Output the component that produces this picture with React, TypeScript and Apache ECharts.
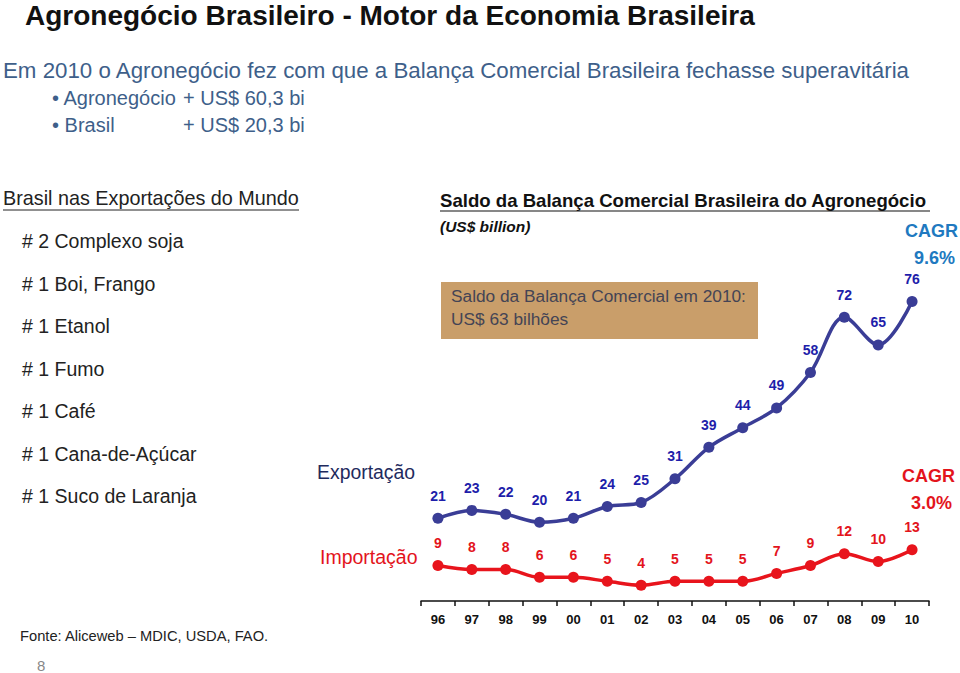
import React, { useEffect, useRef } from "react";
import * as echarts from "echarts";

const years = ["96", "97", "98", "99", "00", "01", "02", "03", "04", "05", "06", "07", "08", "09", "10"];
const exportacao = [21, 23, 22, 20, 21, 24, 25, 31, 39, 44, 49, 58, 72, 65, 76];
const importacao = [9, 8, 8, 6, 6, 5, 4, 5, 5, 5, 7, 9, 12, 10, 13];
const rankings = [
  "# 2 Complexo soja",
  "# 1 Boi, Frango",
  "# 1 Etanol",
  "# 1 Fumo",
  "# 1 Café",
  "# 1 Cana-de-Açúcar",
  "# 1 Suco de Laranja",
];

const FONT = "'Liberation Sans', Arial, sans-serif";

export default function App() {
  const ref = useRef<HTMLDivElement>(null);
  useEffect(() => {
    document.body.style.margin = "0";
    const chart = echarts.init(ref.current!, null, { renderer: "svg" });
    const txt = (text: string, x: number, y: number, style: any = {}) => ({
      type: "text",
      x,
      y,
      style: {
        text,
        fontFamily: FONT,
        fontSize: 18,
        fill: "#222",
        textVerticalAlign: "middle",
        ...style,
      },
    });
    const graphic: any[] = [
      txt("Agronegócio Brasileiro - Motor da Economia Brasileira", 25, 15, {
        fontSize: 28,
        fontWeight: "bold",
        fill: "#111",
      }),
      txt("Em 2010 o Agronegócio fez com que a Balança Comercial Brasileira fechasse superavitária", 3, 70, {
        fontSize: 22.3,
        fill: "#3E5F8A",
      }),
      txt("• Agronegócio", 52, 98, { fontSize: 20, fill: "#3E5F8A" }),
      txt("+ US$ 60,3 bi", 183, 98, { fontSize: 20, fill: "#3E5F8A" }),
      txt("• Brasil", 52, 125, { fontSize: 20, fill: "#3E5F8A" }),
      txt("+ US$ 20,3 bi", 183, 125, { fontSize: 20, fill: "#3E5F8A" }),
      txt("Brasil nas Exportações do Mundo", 3, 198, { fontSize: 19.8, fill: "#222" }),
      { type: "line", shape: { x1: 3, y1: 210, x2: 299, y2: 210 }, style: { stroke: "#222", lineWidth: 1 } },
      ...rankings.map((r, i) => txt(r, 22, 241 + i * 42.5, { fontSize: 19.5, fill: "#222" })),
      txt("Fonte: Aliceweb – MDIC, USDA, FAO.", 20, 636, { fontSize: 14.7, fill: "#222" }),
      txt("8", 37, 665, { fontSize: 15, fill: "#888" }),
      txt("Saldo da Balança Comercial Brasileira do Agronegócio", 440, 200, {
        fontSize: 18.6,
        fontWeight: "bold",
        fill: "#111",
      }),
      { type: "line", shape: { x1: 440, y1: 211, x2: 930, y2: 211 }, style: { stroke: "#111", lineWidth: 1.2 } },
      txt("(US$ billion)", 440, 226, { fontSize: 15.5, fontWeight: "bold", fontStyle: "italic", fill: "#111" }),
      {
        type: "rect",
        shape: { x: 441, y: 282, width: 317, height: 57 },
        style: { fill: "#C99E6A" },
      },
      txt("Saldo da Balança Comercial em 2010:", 451, 296, { fontSize: 17.3, fill: "#444455" }),
      txt("US$ 63 bilhões", 451, 319, { fontSize: 17.3, fill: "#444455" }),
      txt("CAGR", 958, 231, { fontSize: 18, fontWeight: "bold", fill: "#2079C0", align: "right" }),
      txt("9.6%", 955, 258, { fontSize: 18, fontWeight: "bold", fill: "#2079C0", align: "right" }),
      txt("CAGR", 955, 476, { fontSize: 18, fontWeight: "bold", fill: "#E3141C", align: "right" }),
      txt("3.0%", 952, 503, { fontSize: 18, fontWeight: "bold", fill: "#E3141C", align: "right" }),
      txt("Exportação", 317, 472, { fontSize: 19.4, fill: "#1F2B5E" }),
      txt("Importação", 320, 557, { fontSize: 19.5, fill: "#E3141C" }),
    ];
    const option: any = {
      animation: false,
      grid: { left: 421, right: 31, top: 207, bottom: 72 },
      xAxis: {
        type: "category",
        data: years,
        boundaryGap: true,
        axisLine: { show: true, lineStyle: { color: "#111", width: 1.5 } },
        axisTick: { show: true, length: 5, inside: false, lineStyle: { color: "#111", width: 1.5 } },
        axisLabel: {
          color: "#111",
          fontFamily: FONT,
          fontSize: 13,
          fontWeight: "bold",
          margin: 12,
        },
      },
      yAxis: {
        type: "value",
        min: 0,
        max: 100,
        show: false,
        splitLine: { show: false },
      },
      series: [
        {
          name: "Exportação",
          type: "line",
          data: exportacao,
          smooth: 0.35,
          symbol: "circle",
          symbolSize: 11,
          lineStyle: { color: "#3A3D96", width: 3.5 },
          itemStyle: { color: "#3A3D96" },
          label: {
            show: true,
            position: "top",
            distance: 10,
            color: "#1E1EAA",
            fontFamily: FONT,
            fontSize: 14,
            fontWeight: "bold",
          },
        },
        {
          name: "Importação",
          type: "line",
          data: importacao,
          smooth: 0.35,
          symbol: "circle",
          symbolSize: 11,
          lineStyle: { color: "#E8141C", width: 3.5 },
          itemStyle: { color: "#E8141C" },
          label: {
            show: true,
            position: "top",
            distance: 10,
            color: "#E3141C",
            fontFamily: FONT,
            fontSize: 14,
            fontWeight: "bold",
          },
        },
      ],
      graphic,
    };
    chart.setOption(option);
    return () => chart.dispose();
  }, []);
  return (
    <div
      ref={ref}
      style={{ position: "fixed", left: 0, top: 0, width: 960, height: 673, background: "#fff" }}
    />
  );
}
